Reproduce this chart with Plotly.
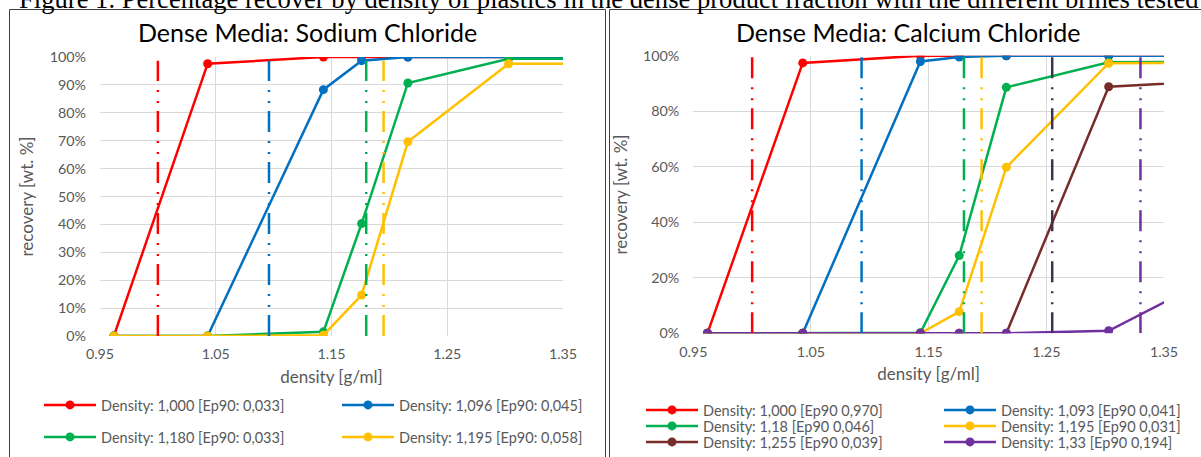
import plotly.graph_objects as go

# ---------------- data ----------------
density = [0.962, 1.043, 1.143, 1.176, 1.216, 1.303, 1.40]

# Sodium chloride
na_names = ["Density: 1,000 [Ep90: 0,033]", "Density: 1,096 [Ep90: 0,045]",
            "Density: 1,180 [Ep90: 0,033]", "Density: 1,195 [Ep90: 0,058]"]
na_red = [0, 97.6, 100, 100, 100, 100, 100]
na_blue = [0, 0, 88.3, 98.7, 100, 100, 100]
na_green = [0, 0, 1.5, 40.3, 90.7, 99.4, 99.4]
na_yellow = [0, 0, 0.3, 14.7, 69.6, 97.6, 97.6]
na_cuts = [1.000, 1.096, 1.180, 1.195]

# Calcium chloride
ca_names = ["Density: 1,000 [Ep90 0,970]", "Density: 1,093 [Ep90 0,041]",
            "Density: 1,18 [Ep90 0,046]", "Density: 1,195 [Ep90 0,031]",
            "Density: 1,255 [Ep90 0,039]", "Density: 1,33 [Ep90 0,194]"]
ca_red = [0, 97.4, 100, 100, 100, 100, 100]
ca_blue = [0, 0, 97.9, 99.5, 100, 100, 100]
ca_green = [0, 0, 0.2, 28.0, 88.6, 97.6, 97.8]
ca_yellow = [0, 0, 0, 7.8, 59.8, 97.3, 97.5]
ca_brown = [0, 0, 0, 0, 0, 88.8, 91.0]
ca_purple = [0, 0, 0, 0, 0, 0.9, 22.0]
ca_cuts = [1.000, 1.093, 1.180, 1.195, 1.255, 1.330]

x_ticks = [0.95, 1.05, 1.15, 1.25, 1.35]

# ---------------- styles ----------------
RED, BLUE, GREEN, YELLOW = "#FF0000", "#0070C0", "#00B050", "#FFC000"
BROWN, PURPLE, DARKPURP = "#772C2A", "#7030A0", "#403151"
GRID = "#D9D9D9"
TXT = "#595959"
FONT = "Lato, Liberation Sans, sans-serif"
DASH = "21px,8px,2px,9px,2px,9px"

W, H = 1201, 457

def px_x(p):
    return p / W

def px_y(p):
    return 1 - p / H

fig = go.Figure()

na_series = [na_red, na_blue, na_green, na_yellow]
na_colors = [RED, BLUE, GREEN, YELLOW]
na_leg = ["legend", "legend", "legend2", "legend2"]
for name, ys, c, lg in zip(na_names, na_series, na_colors, na_leg):
    fig.add_trace(go.Scatter(x=density, y=ys, name=name, mode="lines+markers",
                             line=dict(color=c, width=2.5), marker=dict(color=c, size=9),
                             xaxis="x", yaxis="y", legend=lg))
for cut, c in zip(na_cuts, na_colors):
    fig.add_trace(go.Scatter(x=[cut, cut], y=[0, 98.7], mode="lines", showlegend=False,
                             line=dict(color=c, width=2.5, dash=DASH),
                             xaxis="x", yaxis="y", hoverinfo="skip"))

ca_series = [ca_red, ca_blue, ca_green, ca_yellow, ca_brown, ca_purple]
ca_colors = [RED, BLUE, GREEN, YELLOW, BROWN, PURPLE]
ca_cut_colors = [RED, BLUE, GREEN, YELLOW, DARKPURP, PURPLE]
ca_leg = ["legend3", "legend3", "legend4", "legend4", "legend5", "legend5"]
for name, ys, c, lg in zip(ca_names, ca_series, ca_colors, ca_leg):
    fig.add_trace(go.Scatter(x=density, y=ys, name=name, mode="lines+markers",
                             line=dict(color=c, width=2.5), marker=dict(color=c, size=9),
                             xaxis="x2", yaxis="y2", legend=lg))
for cut, c in zip(ca_cuts, ca_cut_colors):
    fig.add_trace(go.Scatter(x=[cut, cut], y=[0, 100], mode="lines", showlegend=False,
                             line=dict(color=c, width=2.5, dash=DASH),
                             xaxis="x2", yaxis="y2", hoverinfo="skip"))

axis_common = dict(showgrid=True, gridcolor=GRID, gridwidth=1, zeroline=False,
                   showline=False, ticks="", tickfont=dict(family=FONT, size=14.3, color=TXT),
                   fixedrange=True)
title_font = dict(family=FONT, size=17, color=TXT)

fig.update_layout(
    width=W, height=H, autosize=False,
    margin=dict(l=0, r=0, t=0, b=0, autoexpand=False),
    paper_bgcolor="white", plot_bgcolor="white",
    font=dict(family=FONT, color=TXT),
    xaxis=dict(domain=[px_x(100), px_x(563)], range=[0.95, 1.35], tickvals=x_ticks,
               tickformat=".2f", anchor="y", ticklabelstandoff=8,
               title=dict(text="density [g/ml]", font=title_font, standoff=9),
               **axis_common),
    yaxis=dict(domain=[px_y(336), px_y(57)], range=[0, 100], dtick=10, ticksuffix="%",
               anchor="x", ticklabelstandoff=13,
               title=dict(text="recovery [wt. %]", font=title_font, standoff=11),
               **axis_common),
    xaxis2=dict(domain=[px_x(693.3), px_x(1164)], range=[0.95, 1.35], tickvals=x_ticks,
                tickformat=".2f", anchor="y2", ticklabelstandoff=8,
                title=dict(text="density [g/ml]", font=title_font, standoff=9),
                **axis_common),
    yaxis2=dict(domain=[px_y(333.3), px_y(55.7)], range=[0, 100], dtick=20, ticksuffix="%",
                anchor="x2", ticklabelstandoff=13,
                title=dict(text="recovery [wt. %]", font=title_font, standoff=11),
                **axis_common),
)

leg_common = dict(orientation="h", entrywidthmode="pixels", entrywidth=231,
                  itemwidth=52, font=dict(family=FONT, size=14.5, color=TXT),
                  bgcolor="rgba(0,0,0,0)", xanchor="left", yanchor="middle",
                  tracegroupgap=0, itemclick=False, itemdoubleclick=False)
fig.update_layout(
    legend=dict(x=px_x(39), y=px_y(405), **leg_common),
    legend2=dict(x=px_x(39), y=px_y(437), **leg_common),
    legend3=dict(x=px_x(641), y=px_y(410), **leg_common),
    legend4=dict(x=px_x(641), y=px_y(426), **leg_common),
    legend5=dict(x=px_x(641), y=px_y(442), **leg_common),
)

# chart titles and figure caption
fig.add_annotation(text="Dense Media: Sodium Chloride", x=px_x(307.5), y=px_y(32), xref="paper", yref="paper",
                   showarrow=False, font=dict(family=FONT, size=25, color="black"), xanchor="center", yanchor="middle")
fig.add_annotation(text="Dense Media: Calcium Chloride", x=px_x(908), y=px_y(32), xref="paper", yref="paper",
                   showarrow=False, font=dict(family=FONT, size=25, color="black"), xanchor="center", yanchor="middle")
fig.add_annotation(text="Figure 1. Percentage recover by density of plastics in the dense product fraction with the different brines tested",
                   x=px_x(17), y=px_y(16), xref="paper", yref="paper", showarrow=False,
                   font=dict(family="Liberation Serif, Times New Roman, serif", size=26.6, color="black"),
                   xanchor="left", yanchor="bottom")

# chart frames
fig.add_shape(type="rect", xref="paper", yref="paper", x0=px_x(9.5), x1=px_x(605.5), y0=px_y(470), y1=px_y(9.5),
              line=dict(color="#3F3F3F", width=1), layer="below")
fig.add_shape(type="rect", xref="paper", yref="paper", x0=px_x(609.5), x1=px_x(1215), y0=px_y(470), y1=px_y(9.5),
              line=dict(color="#3F3F3F", width=1), layer="below")

fig.write_html("out.html", config={"displayModeBar": False},
               post_script="document.body.style.margin='0';document.body.style.overflow='hidden';")
